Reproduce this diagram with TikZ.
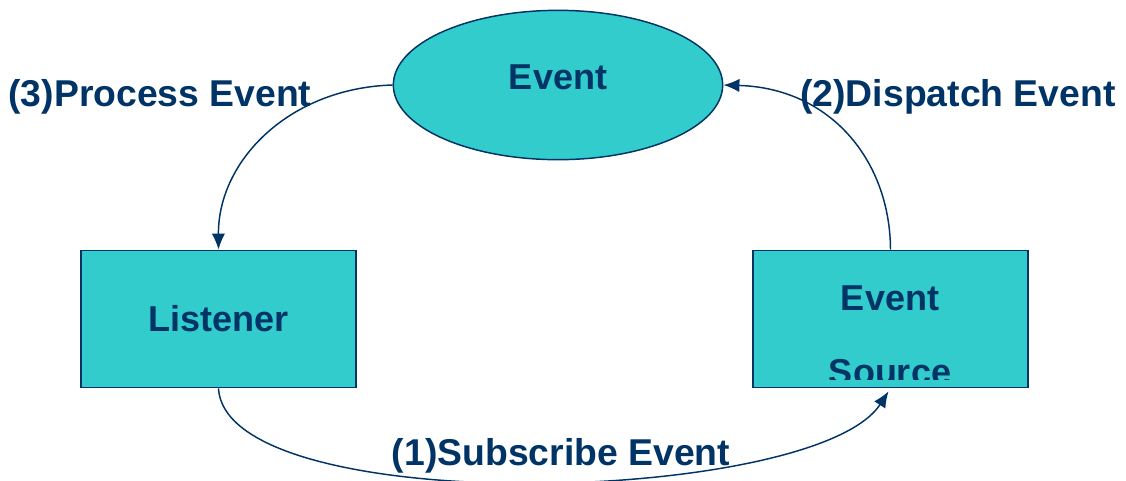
\documentclass[tikz,border=0pt]{standalone}
\usepackage{fontspec}
\setmainfont{Liberation Sans}
\usepackage{xcolor}
\usetikzlibrary{positioning,shapes,arrows.meta,calc}

\definecolor{evteal}{HTML}{33CCCC}
\definecolor{evnavy}{HTML}{003366}

\begin{document}
\begin{tikzpicture}[
    x=0.75pt, y=-0.75pt,
    every node/.style={text=evnavy, font=\bfseries\fontsize{27}{30}\selectfont},
    block/.style={rectangle, draw=evnavy, line width=1.1pt, fill=evteal, minimum width=206pt, minimum height=103pt, inner sep=0pt},
    oval/.style={ellipse, draw=evnavy, line width=1.1pt, fill=evteal, minimum width=247pt, minimum height=112pt, inner sep=0pt},
    flow/.style={draw=evnavy, line width=1.1pt, -{Latex[length=12pt, width=10pt]}},
    lbl/.style={font=\bfseries\fontsize{28}{31}\selectfont, inner sep=0pt}
]
\useasboundingbox (0,0) rectangle (1126,480);
\node[oval] (event) at (558,85) {};
\node at (558,77) {Event};
\node[block] (listener) at (218.5,319) {Listener};
\node[block] (source) at (890.5,319) {};
\node at (890,298) {Event};
\begin{scope}
    \clip (753,250) rectangle (1028,379);
    \node at (890,372) {Source};
\end{scope}
% connectors
\draw[flow] (event.west) .. controls (290,88) and (218,160) .. (listener.north);
\draw[flow] (source.north) .. controls (890,160) and (830,88) .. (event.east);
\draw[flow] (listener.south) .. controls (226,520) and (815,505) .. ($(source.south)+(-2,3)$);
% labels
\node[lbl] (procLbl) at (160,97) {(3)Process Event};
\node[lbl] (dispLbl) at (958,97) {(2)Dispatch Event};
\node[lbl] (subsLbl) at (561,456) {(1)Subscribe Event};
\end{tikzpicture}
\end{document}
